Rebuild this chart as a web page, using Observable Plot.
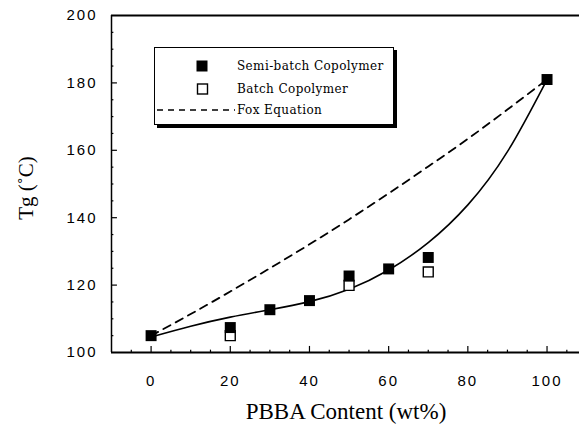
<!DOCTYPE html>
<html>
<head>
<meta charset="utf-8">
<script src="https://cdn.jsdelivr.net/npm/d3@7"></script>
<script src="https://cdn.jsdelivr.net/npm/@observablehq/plot@0.6"></script>
<style>
  html, body { margin: 0; padding: 0; background: #fff; }
  #wrap { position: relative; width: 579px; height: 426px; overflow: hidden; }
  #wrap svg text { letter-spacing: 2px; }
  .title { position: absolute; font-family: "Liberation Serif", serif; color: #000; white-space: nowrap; }
  #xtitle { left: 0; width: 692px; top: 399px; text-align: center; font-size: 23px; line-height: 26px; }
  #ytitle { left: 26px; top: 188px; font-size: 21px; line-height: 24px; transform: translate(-50%, -50%) rotate(-90deg); }
  #legend { position: absolute; left: 154px; top: 47px; width: 238px; height: 76px; border: 1.5px solid #000;
            background: #fff; box-shadow: 3px 3px 0 #000; font-family: "DejaVu Serif", serif; font-size: 12px; }
  #legend .row { position: absolute; left: 0; height: 18px; width: 100%; }
  #legend .row span { position: absolute; left: 82px; top: 0; line-height: 18px; letter-spacing: 0.4px; white-space: nowrap; }
  #legend .row svg { position: absolute; left: 0; top: 0; }
</style>
</head>
<body>
<div id="wrap"></div>
<script>
// Semi-batch copolymer (filled squares)
const semiX = [0, 20, 30, 40, 50, 60, 70, 100];
const semiY = [105.0, 107.4, 112.7, 115.4, 122.7, 124.8, 128.2, 181.0];
// Batch copolymer (open squares)
const batchX = [20, 50, 70];
const batchY = [105.0, 119.9, 123.9];
// Fitted trend line (solid)
const fitX = [0, 10, 20, 30, 40, 50, 60, 70, 80, 90, 100];
const fitY = [104.6, 107.8, 110.5, 112.7, 115.1, 118.8, 124.5, 132.6, 143.8, 159.6, 181.0];
// Fox equation (dashed)
const foxX = [0, 10, 20, 30, 40, 50, 60, 70, 80, 90, 100];
const foxY = [105.0, 111.4, 118.1, 125.0, 132.1, 139.5, 147.2, 155.2, 163.4, 172.1, 181.0];
// Tick labels
const xTicks = [0, 20, 40, 60, 80, 100];
const yTicks = [100, 120, 140, 160, 180, 200];
const xMinor = d3.range(-5, 106, 5);
const yMinor = d3.range(105, 200, 5);

const xDomain = [-10, 108.2];
const yDomain = [100, 200];

const semi = semiX.map((x, i) => ({x, y: semiY[i]}));
const batch = batchX.map((x, i) => ({x, y: batchY[i]}));
const fit = fitX.map((x, i) => ({x, y: fitY[i]}));
const fox = foxX.map((x, i) => ({x, y: foxY[i]}));

const xMajorTicks = xMinor.filter(v => v % 20 === 0);
const xMinorTicks = xMinor.filter(v => v % 20 !== 0);
const yMajorTicks = yMinor.filter(v => v % 20 === 0);
const yMinorTicks = yMinor.filter(v => v % 20 !== 0);

const chart = Plot.plot({
  width: 579,
  height: 426,
  marginLeft: 111,
  marginRight: 0,
  marginTop: 15,
  marginBottom: 74,
  style: { fontFamily: "Liberation Sans, sans-serif", fontSize: "15px", color: "#000", background: "#fff" },
  x: { domain: xDomain },
  y: { domain: yDomain },
  marks: [
    Plot.axisX({ ticks: xTicks, tickSize: 0, tickPadding: 23, label: null, fontSize: 15 }),
    Plot.axisY({ ticks: yTicks, tickSize: 0, tickPadding: 14, label: null, fontSize: 15 }),
    // inward ticks
    Plot.ruleX(xMajorTicks, { x: d => d, y1: yDomain[0], y2: yDomain[0] + 1.8, stroke: "#000", strokeWidth: 1.2 }),
    Plot.ruleX(xMinorTicks, { x: d => d, y1: yDomain[0], y2: yDomain[0] + 0.7, stroke: "#000", strokeWidth: 1.2 }),
    Plot.ruleY(yMajorTicks, { y: d => d, x1: xDomain[0], x2: xDomain[0] + 1.5, stroke: "#000", strokeWidth: 1.2 }),
    Plot.ruleY(yMinorTicks, { y: d => d, x1: xDomain[0], x2: xDomain[0] + 0.6, stroke: "#000", strokeWidth: 1.2 }),
    // frame (top, left, bottom)
    Plot.ruleY([yDomain[1]], { stroke: "#000", strokeWidth: 2 }),
    Plot.ruleY([yDomain[0]], { stroke: "#000", strokeWidth: 2 }),
    Plot.ruleX([xDomain[0]], { stroke: "#000", strokeWidth: 1.5 }),
    // lines
    Plot.line(fox, { x: "x", y: "y", stroke: "#000", strokeWidth: 1.8, strokeDasharray: "8,6", curve: "natural" }),
    Plot.line(fit, { x: "x", y: "y", stroke: "#000", strokeWidth: 1.6, curve: "natural" }),
    // points
    Plot.dot(batch, { x: "x", y: "y", symbol: "square", r: 5.6, fill: "#fff", stroke: "#000", strokeWidth: 1.4 }),
    Plot.dot(semi, { x: "x", y: "y", symbol: "square", r: 6.2, fill: "#000", stroke: "none" })
  ]
});

const wrap = document.getElementById("wrap");
wrap.appendChild(chart);

const xt = document.createElement("div");
xt.className = "title"; xt.id = "xtitle"; xt.textContent = "PBBA Content (wt%)";
wrap.appendChild(xt);
const yt = document.createElement("div");
yt.className = "title"; yt.id = "ytitle"; yt.textContent = "Tg (˚C)";
wrap.appendChild(yt);

// Legend
const legendItems = [
  { label: "Semi-batch Copolymer", kind: "filled", top: 9 },
  { label: "Batch Copolymer", kind: "open", top: 32 },
  { label: "Fox Equation", kind: "dash", top: 53 }
];
const lg = document.createElement("div");
lg.id = "legend";
for (const it of legendItems) {
  const row = document.createElement("div");
  row.className = "row";
  row.style.top = it.top + "px";
  let sym;
  if (it.kind === "filled") sym = '<svg width="82" height="18"><rect x="41.5" y="3.5" width="11" height="11" fill="#000"/></svg>';
  else if (it.kind === "open") sym = '<svg width="82" height="18"><rect x="42.5" y="4" width="10" height="10" fill="#fff" stroke="#000" stroke-width="1.4"/></svg>';
  else sym = '<svg width="82" height="18"><line x1="2" x2="80" y1="9" y2="9" stroke="#000" stroke-width="1.5" stroke-dasharray="6,5"/></svg>';
  row.innerHTML = sym + "<span>" + it.label + "</span>";
  lg.appendChild(row);
}
wrap.appendChild(lg);
</script>
</body>
</html>
